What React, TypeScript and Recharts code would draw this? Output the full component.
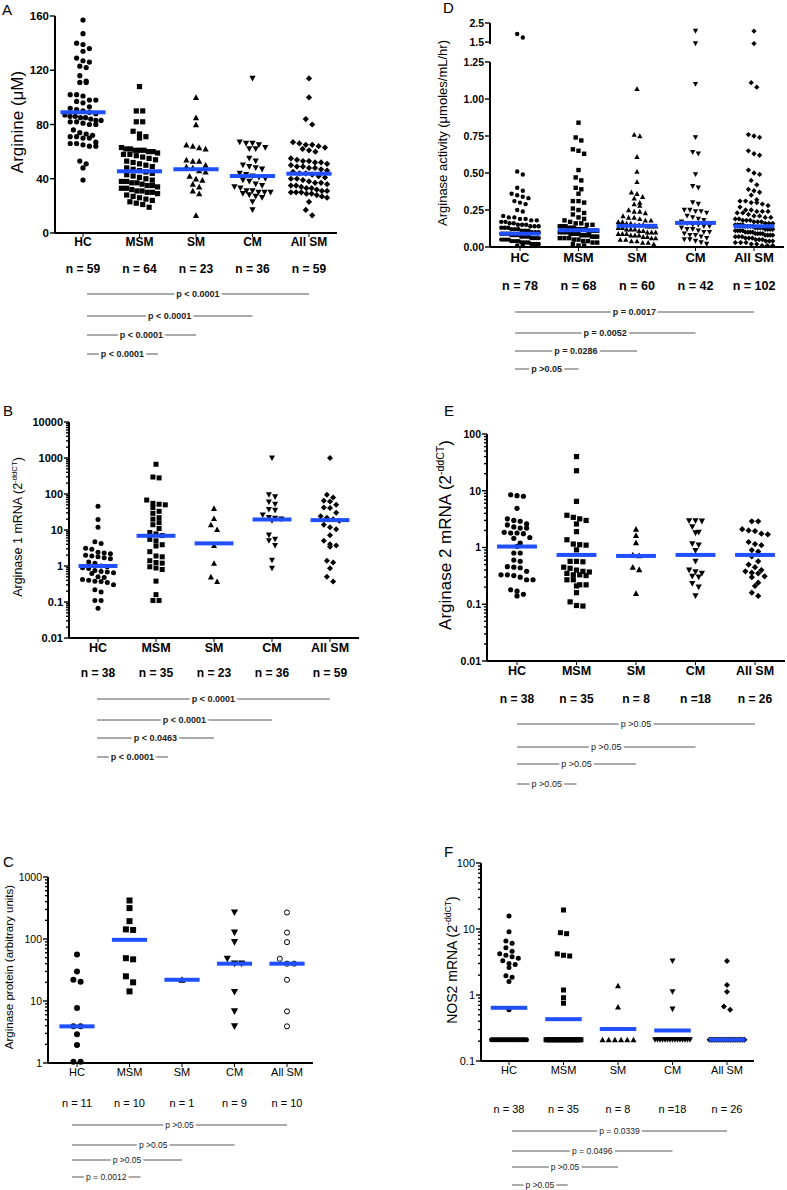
import React from 'react';
import { ScatterChart, Scatter, XAxis, YAxis } from 'recharts';

const GROUPS = ['HC', 'MSM', 'SM', 'CM', 'All SM'];
const KINDS = ['circle', 'square', 'up', 'down', 'diamond'];
const P_TARGETS = [4, 3, 2, 1];
const FONT = '"Liberation Sans", Arial, Helvetica, sans-serif';
const NARROW = '"Liberation Sans Narrow", "Liberation Sans", Arial, sans-serif';
const BLUE = '#1f4fff';

// A - plasma arginine (uM)
const argHC = [157, 147, 140, 139, 136, 134, 129, 127, 126, 123, 122, 116, 112, 111, 111, 102, 102, 101, 98, 98, 97, 96, 93, 92, 91, 90, 89, 88, 87, 86, 86, 85, 85, 84, 83, 83, 82, 82, 81, 80, 80, 76, 74, 73, 72, 71, 71, 70, 70, 67, 66, 66, 65, 64, 64, 53, 51, 48, 39];
const argMSM = [108, 90, 90, 82, 82, 75, 73, 71, 70, 63, 62, 62, 61, 61, 61, 60, 60, 59, 58, 58, 57, 56, 55, 54, 53, 52, 51, 50, 49, 48, 47, 46, 45, 44, 43, 42, 41, 40, 39, 38, 38, 37, 37, 36, 35, 35, 34, 33, 33, 32, 31, 31, 30, 30, 29, 28, 27, 26, 25, 24, 23, 22, 21, 19];
const argSM = [100, 85, 80, 65, 64, 63, 62, 54, 53, 53, 50, 49, 48, 46, 45, 42, 40, 39, 36, 34, 31, 29, 13];
const argCM = [114, 67, 66, 66, 65, 63, 62, 62, 55, 53, 50, 49, 48, 47, 44, 43, 42, 41, 40, 39, 38, 36, 35, 34, 33, 31, 31, 30, 30, 30, 29, 28, 27, 26, 23, 17];
const argAll = [114, 100, 84, 80, 67, 66, 65, 65, 64, 63, 62, 61, 60, 55, 54, 53, 53, 52, 52, 51, 50, 49, 49, 48, 48, 47, 46, 45, 44, 44, 43, 42, 41, 40, 40, 39, 38, 37, 37, 36, 35, 35, 34, 33, 33, 32, 31, 31, 30, 30, 30, 29, 29, 28, 27, 26, 23, 17, 13];
const argMedian = [89, 45.5, 47, 42, 43.7];
const argTicks = [0, 40, 80, 120, 160];
const argN = ['n = 59', 'n = 64', 'n = 23', 'n = 36', 'n = 59'];
const argP = ['p < 0.0001', 'p < 0.0001', 'p < 0.0001', 'p < 0.0001'];

// D - arginase activity (umoles/mL/hr)
const actHC = [1.92, 1.74, 0.51, 0.49, 0.40, 0.38, 0.36, 0.35, 0.34, 0.33, 0.31, 0.30, 0.29, 0.25, 0.24, 0.21, 0.20, 0.20, 0.19, 0.19, 0.18, 0.18, 0.17, 0.17, 0.16, 0.16, 0.15, 0.15, 0.15, 0.14, 0.14, 0.14, 0.13, 0.13, 0.13, 0.12, 0.12, 0.12, 0.11, 0.11, 0.11, 0.10, 0.10, 0.10, 0.09, 0.09, 0.09, 0.09, 0.08, 0.08, 0.08, 0.08, 0.07, 0.07, 0.07, 0.07, 0.06, 0.06, 0.06, 0.06, 0.05, 0.05, 0.05, 0.05, 0.04, 0.04, 0.04, 0.04, 0.03, 0.03, 0.03, 0.03, 0.02, 0.02, 0.02, 0.02, 0.01, 0.01];
const actMSM = [0.84, 0.74, 0.72, 0.66, 0.65, 0.63, 0.52, 0.47, 0.45, 0.40, 0.39, 0.36, 0.31, 0.31, 0.30, 0.26, 0.25, 0.23, 0.22, 0.20, 0.19, 0.18, 0.17, 0.16, 0.16, 0.15, 0.15, 0.14, 0.14, 0.14, 0.13, 0.13, 0.13, 0.12, 0.12, 0.12, 0.12, 0.11, 0.11, 0.11, 0.11, 0.10, 0.10, 0.10, 0.10, 0.09, 0.09, 0.09, 0.09, 0.08, 0.08, 0.08, 0.08, 0.07, 0.07, 0.07, 0.06, 0.06, 0.06, 0.05, 0.05, 0.04, 0.04, 0.03, 0.03, 0.02, 0.01, 0.01];
const actSM = [1.07, 0.76, 0.75, 0.61, 0.51, 0.44, 0.37, 0.36, 0.34, 0.33, 0.30, 0.29, 0.28, 0.25, 0.24, 0.24, 0.23, 0.21, 0.20, 0.20, 0.19, 0.18, 0.18, 0.17, 0.17, 0.16, 0.16, 0.15, 0.15, 0.15, 0.14, 0.14, 0.14, 0.13, 0.13, 0.12, 0.12, 0.12, 0.11, 0.11, 0.10, 0.10, 0.10, 0.09, 0.09, 0.09, 0.08, 0.08, 0.08, 0.07, 0.07, 0.06, 0.06, 0.05, 0.05, 0.04, 0.04, 0.03, 0.03, 0.02];
const actCM = [2.08, 1.42, 1.10, 0.74, 0.64, 0.63, 0.49, 0.41, 0.40, 0.30, 0.29, 0.25, 0.25, 0.24, 0.24, 0.23, 0.21, 0.20, 0.19, 0.18, 0.17, 0.16, 0.15, 0.15, 0.14, 0.14, 0.13, 0.12, 0.12, 0.11, 0.10, 0.10, 0.09, 0.08, 0.08, 0.07, 0.06, 0.05, 0.05, 0.04, 0.03, 0.02];
const actAll = [2.08, 1.42, 1.11, 1.08, 0.76, 0.75, 0.74, 0.65, 0.63, 0.62, 0.52, 0.50, 0.49, 0.45, 0.42, 0.39, 0.38, 0.37, 0.35, 0.32, 0.31, 0.31, 0.30, 0.30, 0.29, 0.28, 0.27, 0.25, 0.25, 0.24, 0.24, 0.24, 0.23, 0.23, 0.22, 0.21, 0.21, 0.20, 0.20, 0.19, 0.19, 0.18, 0.18, 0.18, 0.17, 0.17, 0.17, 0.16, 0.16, 0.16, 0.15, 0.15, 0.15, 0.15, 0.14, 0.14, 0.14, 0.14, 0.13, 0.13, 0.13, 0.13, 0.12, 0.12, 0.12, 0.12, 0.11, 0.11, 0.11, 0.11, 0.10, 0.10, 0.10, 0.10, 0.09, 0.09, 0.09, 0.09, 0.08, 0.08, 0.08, 0.08, 0.07, 0.07, 0.07, 0.06, 0.06, 0.06, 0.05, 0.05, 0.05, 0.04, 0.04, 0.04, 0.03, 0.03, 0.03, 0.02, 0.02, 0.01, 0.01, 0.01];
const actMedian = [0.09, 0.113, 0.143, 0.163, 0.14];
const actTicksLow = [0, 0.25, 0.5, 0.75, 1.0, 1.25];
const actTicksHigh = [1.5, 2.5];
const actN = ['n = 78', 'n = 68', 'n = 60', 'n = 42', 'n = 102'];
const actP = ['p = 0.0017', 'p = 0.0052', 'p = 0.0286', 'p >0.05'];

// B - arginase 1 mRNA
const arg1HC = [46, 19.6, 12, 4.7, 4.2, 3.1, 2.9, 2.4, 2.3, 2.2, 2.0, 1.9, 1.8, 1.7, 1.6, 1.3, 1.2, 1.0, 0.95, 0.9, 0.85, 0.75, 0.7, 0.68, 0.65, 0.62, 0.5, 0.48, 0.42, 0.4, 0.38, 0.37, 0.35, 0.3, 0.22, 0.19, 0.11, 0.11, 0.067];
const arg1MSM = [670, 296, 280, 68, 55, 52, 50, 42, 33, 29, 22, 20, 16, 14, 11, 8.5, 7.8, 7, 5.5, 5.0, 3.9, 3.6, 2.5, 1.9, 1.8, 1.4, 1.25, 1.2, 0.95, 0.88, 0.8, 0.38, 0.16, 0.11, 0.11];
const arg1SM = [40, 21, 14, 10.4, 3.7, 1.2, 0.5, 0.37];
const arg1CM = [1000, 95, 83, 60, 52, 37, 35, 26, 22, 21, 20, 18, 7.2, 5.5, 5.0, 3.7, 1.45, 0.87];
const arg1All = [1000, 95, 80, 65, 62, 50, 42, 41, 30, 24, 22, 20, 18, 14, 12, 10.5, 7.2, 5, 4, 3.7, 3.4, 1.4, 1.25, 0.87, 0.5, 0.37];
const arg1Median = [1.0, 6.9, 4.25, 19.6, 18.8];
const arg1Ticks = [0.01, 0.1, 1, 10, 100, 1000, 10000];
const arg1N = ['n = 38', 'n = 35', 'n = 23', 'n = 36', 'n = 59'];
const arg1P = ['p < 0.0001', 'p < 0.0001', 'p < 0.0463', 'p < 0.0001'];

// E - arginase 2 mRNA
const arg2HC = [8.5, 8.2, 8.0, 4.9, 3.2, 3.0, 2.9, 2.6, 2.5, 2.3, 2.2, 2.2, 1.85, 1.8, 1.8, 1.75, 1.5, 1.45, 1.2, 1.05, 0.8, 0.8, 0.6, 0.57, 0.46, 0.45, 0.44, 0.38, 0.33, 0.33, 0.32, 0.3, 0.27, 0.27, 0.18, 0.17, 0.15, 0.14];
const arg2MSM = [40, 22.5, 6.5, 3.7, 3.4, 3.2, 3.0, 2.6, 1.9, 1.37, 1.15, 1.12, 1.1, 0.91, 0.57, 0.57, 0.56, 0.45, 0.43, 0.40, 0.38, 0.37, 0.35, 0.33, 0.33, 0.32, 0.27, 0.27, 0.22, 0.22, 0.21, 0.16, 0.11, 0.095, 0.093];
const arg2SM = [2.1, 1.63, 1.22, 0.72, 0.74, 0.45, 0.41, 0.156];
const arg2CM = [2.95, 2.9, 2.95, 2.3, 1.85, 1.8, 1.16, 1.1, 0.88, 0.57, 0.40, 0.37, 0.35, 0.31, 0.30, 0.23, 0.2, 0.14];
const arg2All = [2.9, 2.9, 2.1, 2.0, 1.95, 1.75, 1.7, 1.25, 1.15, 1.1, 0.9, 0.85, 0.7, 0.57, 0.5, 0.45, 0.4, 0.38, 0.36, 0.35, 0.31, 0.3, 0.24, 0.21, 0.16, 0.14];
const arg2Median = [1.04, 0.74, 0.71, 0.74, 0.74];
const arg2Ticks = [0.01, 0.1, 1, 10, 100];
const arg2N = ['n = 38', 'n = 35', 'n = 8', 'n =18', 'n = 26'];
const arg2P = ['p >0.05', 'p >0.05', 'p >0.05', 'p >0.05'];

// C - arginase protein (arbitrary units)
const protHC = [56, 30, 22, 20.5, 7.7, 3.9, 3.9, 2.9, 1.95, 1.05, 1.05];
const protMSM = [418, 315, 194, 143, 140, 49, 47, 25, 20, 14.3];
const protSM = [22];
const protCM = [268, 127, 89, 48, 40, 40, 14, 6.8, 3.9];
const protAll = [268, 127, 89, 48, 40, 40, 22, 6.8, 3.9];
const protMedian = [3.9, 97, 22, 40, 40];
const protTicks = [1, 10, 100, 1000];
const protN = ['n = 11', 'n = 10', 'n = 1', 'n = 9', 'n = 10'];
const protP = ['p >0.05', 'p >0.05', 'p >0.05', 'p = 0.0012'];

// F - NOS2 mRNA
const nosHC = [15.8, 9.1, 6.6, 6.1, 5.2, 4.6, 4.2, 4.0, 3.8, 3.6, 3.3, 3.0, 2.9, 2.6, 1.95, 1.85, 1.6, 0.6, 0.21, 0.21, 0.21, 0.21, 0.21, 0.21, 0.21, 0.21, 0.21, 0.21, 0.21, 0.21, 0.21, 0.21, 0.21, 0.21, 0.21, 0.21, 0.21, 0.21];
const nosMSM = [19.4, 8.8, 8.5, 4.2, 4.0, 3.9, 1.19, 0.91, 0.75, 0.21, 0.21, 0.21, 0.21, 0.21, 0.21, 0.21, 0.21, 0.21, 0.21, 0.21, 0.21, 0.21, 0.21, 0.21, 0.21, 0.21, 0.21, 0.21, 0.21, 0.21, 0.21, 0.21, 0.21, 0.21, 0.21];
const nosSM = [1.38, 0.66, 0.21, 0.21, 0.21, 0.21, 0.21, 0.21];
const nosCM = [3.27, 1.12, 0.61, 0.21, 0.21, 0.21, 0.21, 0.21, 0.21, 0.21, 0.21, 0.21, 0.21, 0.21, 0.21, 0.21, 0.21, 0.21];
const nosAll = [3.27, 1.42, 1.12, 0.67, 0.6, 0.21, 0.21, 0.21, 0.21, 0.21, 0.21, 0.21, 0.21, 0.21, 0.21, 0.21, 0.21, 0.21, 0.21, 0.21, 0.21, 0.21, 0.21, 0.21, 0.21, 0.21];
const nosMedian = [0.64, 0.43, 0.305, 0.29, 0.21];
const nosTicks = [0.1, 1, 10, 100];
const nosN = ['n = 38', 'n = 35', 'n = 8', 'n =18', 'n = 26'];
const nosP = ['p = 0.0339', 'p = 0.0496', 'p >0.05', 'p >0.05'];

const YW = 46;
const MT = 6;
const MR = 6;
const XH = 32;

const logMinors = (lo: number, hi: number) => {
  const out: number[] = [];
  for (let e = Math.round(Math.log10(lo)); e < Math.round(Math.log10(hi)); e++) {
    for (let m = 2; m <= 9; m++) out.push(m * Math.pow(10, e));
  }
  return out;
};

// GraphPad-like rows: points close in y share a row and spread sideways
function swarm(values: number[], toPx: (v: number) => number, gap: number, maxHalf: number, step: number, idx: number) {
  const sorted = [...values].sort((a, b) => b - a);
  const rows: number[][] = [];
  let row: number[] = [];
  let y0 = 0;
  for (const v of sorted) {
    const py = toPx(v);
    if (row.length && py - y0 >= gap) {
      rows.push(row);
      row = [];
    }
    if (!row.length) y0 = py;
    row.push(v);
  }
  if (row.length) rows.push(row);
  const pts: { x: number; y: number }[] = [];
  rows.forEach((r) => {
    const k = r.length;
    const sp = k > 1 ? Math.min(gap + 0.8, (2 * maxHalf) / (k - 1)) : 0;
    r.forEach((v, j) => pts.push({ x: idx + ((j - (k - 1) / 2) * sp) / step, y: v }));
  });
  return pts;
}

function Mark({ cx, cy, kind, r }: { cx: number; cy: number; kind: string; r: number }) {
  if (cx == null || cy == null) return null;
  if (kind === 'circle') return <circle cx={cx} cy={cy} r={r} fill="#000" />;
  if (kind === 'open') return <circle cx={cx} cy={cy} r={r * 0.85} fill="#fff" stroke="#000" strokeWidth={1} />;
  if (kind === 'square') return <rect x={cx - r} y={cy - r} width={2 * r} height={2 * r} fill="#000" />;
  const h = r * 1.2;
  if (kind === 'up') return <polygon points={`${cx},${cy - h} ${cx + h},${cy + h * 0.85} ${cx - h},${cy + h * 0.85}`} fill="#000" />;
  if (kind === 'down') return <polygon points={`${cx},${cy + h} ${cx + h},${cy - h * 0.85} ${cx - h},${cy - h * 0.85}`} fill="#000" />;
  return <polygon points={`${cx},${cy - h} ${cx + h},${cy} ${cx},${cy + h} ${cx - h},${cy}`} fill="#000" />;
}

type Cfg = {
  c0: number; step: number; left: number; right: number; top: number; bottom: number;
  scale: 'linear' | 'log'; domain: [number, number]; majors: number[]; minors?: number[];
  fmt: (v: number) => string; groups: number[][]; medians?: number[]; kinds: string[];
  r: number; medW: number; tickFont: [number, string]; catFont?: [number, string];
  catGap?: number; hideX?: boolean; keep?: (v: number) => boolean;
};

function DotPanel({ cfg }: { cfg: Cfg }) {
  const plotW = cfg.right - cfg.left;
  const plotH = cfg.bottom - cfg.top;
  const [d0, d1] = cfg.domain;
  const toPx = (v: number) => {
    const f = cfg.scale === 'log'
      ? (Math.log10(v) - Math.log10(d0)) / (Math.log10(d1) - Math.log10(d0))
      : (v - d0) / (d1 - d0);
    return (1 - f) * plotH;
  };
  const keep = cfg.keep || (() => true);
  const pts = cfg.groups.map((g, i) =>
    swarm(g.filter(keep), toPx, cfg.r * 2 + 0.4, 0.32 * cfg.step, cfg.step, i)
  );
  const xDomain: [number, number] = [(cfg.left - cfg.c0) / cfg.step, (cfg.right - cfg.c0) / cfg.step];
  const allTicks = [...cfg.majors, ...(cfg.minors || [])].sort((a, b) => a - b);
  const isMajor = (v: number) => cfg.majors.some((m) => Math.abs(m - v) <= 1e-9 * Math.max(1, m));
  const MB = cfg.hideX ? 8 : 0;
  const height = MT + plotH + (cfg.hideX ? 0 : XH) + MB;
  const width = YW + plotW + MR;
  const medW = cfg.medW * cfg.step;

  const yTick = (p: any) => {
    const v = p.payload.value;
    const maj = isMajor(v);
    return (
      <g>
        <line x1={YW} x2={YW - (maj ? 5 : 3)} y1={p.y} y2={p.y} stroke="#000" strokeWidth={1.4} />
        {maj && (
          <text x={YW - 6} y={p.y} dy="0.36em" textAnchor="end" fill="#000"
            fontSize={cfg.tickFont[0]} fontWeight={cfg.tickFont[1]} fontFamily={FONT}>
            {cfg.fmt(v)}
          </text>
        )}
      </g>
    );
  };

  return (
    <div style={{ position: 'absolute', left: cfg.left - YW, top: cfg.top - MT }}>
      <ScatterChart width={width} height={height} margin={{ top: MT, right: MR, bottom: MB, left: 0 }}>
        <XAxis
          type="number" dataKey="x" domain={xDomain} ticks={[0, 1, 2, 3, 4]} interval={0}
          tickFormatter={(i: number) => GROUPS[i]} hide={!!cfg.hideX} height={XH}
          stroke="#000" axisLine={{ strokeWidth: 2 }} tickSize={4} tickMargin={cfg.catGap || 0}
          tick={{ fill: '#000', fontSize: cfg.catFont ? cfg.catFont[0] : 12, fontWeight: cfg.catFont ? cfg.catFont[1] : 'bold', fontFamily: FONT }}
        />
        <YAxis
          type="number" dataKey="y" scale={cfg.scale} domain={cfg.domain} ticks={allTicks} interval={0}
          width={YW} stroke="#000" axisLine={{ strokeWidth: 2 }} tickLine={false} tick={yTick}
        />
        {pts.map((data, i) => (
          <Scatter key={GROUPS[i]} data={data} isAnimationActive={false}
            shape={(p: any) => <Mark cx={p.cx} cy={p.cy} kind={cfg.kinds[i]} r={cfg.r} />} />
        ))}
        {cfg.medians && (
          <Scatter data={cfg.medians.map((m, i) => ({ x: i, y: m }))} isAnimationActive={false}
            shape={(p: any) => <rect x={p.cx - medW / 2} y={p.cy - 2} width={medW} height={4} fill={BLUE} />} />
        )}
      </ScatterChart>
    </div>
  );
}

type Ann = {
  letter: string; lx: number; ly: number;
  tx: number; ty: number; tSize: number; title: string; sup?: string;
  c0: number; step: number; n: string[]; nY: number; nFont: [number, string];
  p: string[]; pY: number[]; pStart: number; pFont: [number, string];
};

function Annotations({ a }: { a: Ann }) {
  return (
    <g fontFamily={FONT}>
      <text x={a.lx} y={a.ly} fontSize={15} fill="#000">{a.letter}</text>
      <text transform={`translate(${a.tx},${a.ty}) rotate(-90)`} textAnchor="middle" dy="0.35em" fontSize={a.tSize} fill="#000">
        {a.title}
        {a.sup && <tspan dy={-a.tSize * 0.4} fontSize={a.tSize * 0.62}>{a.sup}</tspan>}
        {a.sup && <tspan dy={a.tSize * 0.4}>)</tspan>}
      </text>
      {a.n.map((t, i) => (
        <text key={t + i} x={a.c0 + i * a.step} y={a.nY} dy="0.36em" textAnchor="middle"
          fontSize={a.nFont[0]} fontWeight={a.nFont[1]} fill="#000">{t}</text>
      ))}
      {a.p.map((t, k) => {
        const textW = t.length * a.pFont[0] * 0.5;
        const x2 = Math.max(a.c0 + P_TARGETS[k] * a.step, a.pStart + textW + 26);
        const mid = (a.pStart + x2) / 2;
        return (
          <g key={k}>
            <line x1={a.pStart} x2={x2} y1={a.pY[k]} y2={a.pY[k]} stroke="#444" strokeWidth={0.9} />
            <text x={mid} y={a.pY[k]} dy="0.35em" textAnchor="middle" fontFamily={NARROW}
              fontSize={a.pFont[0]} fontWeight={a.pFont[1]} fill="#222"
              stroke="#fff" strokeWidth={5} paintOrder="stroke">{t}</text>
          </g>
        );
      })}
    </g>
  );
}

const panelA: Cfg = {
  c0: 83, step: 56.5, left: 55, right: 337, top: 16, bottom: 233, scale: 'linear', domain: [0, 160],
  majors: argTicks, fmt: (v) => String(v), groups: [argHC, argMSM, argSM, argCM, argAll], medians: argMedian,
  kinds: KINDS, r: 2.6, medW: 0.8, tickFont: [11.5, 'bold'], catFont: [12, 'bold'], catGap: 0,
};
const panelDLow: Cfg = {
  c0: 520, step: 58.5, left: 490, right: 784, top: 62, bottom: 247, scale: 'linear', domain: [0, 1.25],
  majors: actTicksLow, fmt: (v) => v.toFixed(2), groups: [actHC, actMSM, actSM, actCM, actAll], medians: actMedian,
  kinds: KINDS, r: 2.2, medW: 0.7, tickFont: [10.5, 'bold'], catFont: [13, 'bold'], catGap: 2, keep: (v) => v <= 1.3,
};
const panelDHigh: Cfg = {
  c0: 520, step: 58.5, left: 490, right: 784, top: 23, bottom: 44, scale: 'linear', domain: [1.4, 2.5],
  majors: actTicksHigh, fmt: (v) => v.toFixed(1), groups: [actHC, actMSM, actSM, actCM, actAll],
  kinds: KINDS, r: 2.2, medW: 0.7, tickFont: [10.5, 'bold'], hideX: true, keep: (v) => v > 1.3,
};
const panelB: Cfg = {
  c0: 98, step: 58, left: 69, right: 359, top: 422, bottom: 638, scale: 'log', domain: [0.01, 10000],
  majors: arg1Ticks, minors: logMinors(0.01, 10000), fmt: (v) => String(v),
  groups: [arg1HC, arg1MSM, arg1SM, arg1CM, arg1All], medians: arg1Median,
  kinds: KINDS, r: 2.5, medW: 0.67, tickFont: [11, 'bold'], catFont: [12.5, 'bold'], catGap: 1,
};
const panelE: Cfg = {
  c0: 517, step: 59.5, left: 487, right: 785, top: 434, bottom: 661, scale: 'log', domain: [0.01, 100],
  majors: arg2Ticks, minors: logMinors(0.01, 100), fmt: (v) => String(v),
  groups: [arg2HC, arg2MSM, arg2SM, arg2CM, arg2All], medians: arg2Median,
  kinds: KINDS, r: 2.6, medW: 0.67, tickFont: [10.5, 'bold'], catFont: [12.5, 'bold'], catGap: 1,
};
const panelC: Cfg = {
  c0: 77, step: 52.5, left: 48, right: 313, top: 877, bottom: 1063, scale: 'log', domain: [1, 1000],
  majors: protTicks, minors: logMinors(1, 1000), fmt: (v) => String(v),
  groups: [protHC, protMSM, protSM, protCM, protAll], medians: protMedian,
  kinds: ['circle', 'square', 'up', 'down', 'open'], r: 3, medW: 0.67, tickFont: [10.5, 'normal'], catFont: [11, 'normal'], catGap: 1,
};
const panelF: Cfg = {
  c0: 509, step: 54.5, left: 481, right: 754, top: 863, bottom: 1061, scale: 'log', domain: [0.1, 100],
  majors: nosTicks, minors: logMinors(0.1, 100), fmt: (v) => String(v),
  groups: [nosHC, nosMSM, nosSM, nosCM, nosAll], medians: nosMedian,
  kinds: KINDS, r: 2.5, medW: 0.67, tickFont: [11, 'normal'], catFont: [11, 'normal'], catGap: 1,
};

const annA: Ann = {
  letter: 'A', lx: 2, ly: 15, tx: 17, ty: 122, tSize: 17, title: 'Arginine (\u03bcM)',
  c0: 83, step: 56.5, n: argN, nY: 269, nFont: [12, 'bold'], p: argP, pY: [294, 316, 335, 354], pStart: 87, pFont: [9, 'bold'],
};
const annD: Ann = {
  letter: 'D', lx: 443, ly: 13, tx: 442, ty: 133, tSize: 13, title: 'Arginase activity (\u03bcmoles/mL/hr)',
  c0: 520, step: 58.5, n: actN, nY: 285, nFont: [12.5, 'bold'], p: actP, pY: [312, 333, 351, 369], pStart: 515, pFont: [9, 'bold'],
};
const annB: Ann = {
  letter: 'B', lx: 3, ly: 416, tx: 18, ty: 527, tSize: 12.5, title: 'Arginase 1 mRNA (2', sup: '-ddCT',
  c0: 98, step: 58, n: arg1N, nY: 673, nFont: [12, 'bold'], p: arg1P, pY: [699, 720, 738, 757], pStart: 97, pFont: [9, 'bold'],
};
const annE: Ann = {
  letter: 'E', lx: 444, ly: 416, tx: 445, ty: 535, tSize: 17, title: 'Arginase 2 mRNA (2', sup: '-ddCT',
  c0: 517, step: 59.5, n: arg2N, nY: 699, nFont: [12, 'bold'], p: arg2P, pY: [724, 747, 764, 784], pStart: 517, pFont: [9, 'normal'],
};
const annC: Ann = {
  letter: 'C', lx: 3, ly: 867, tx: 9, ty: 967, tSize: 11.5, title: 'Arginase protein (arbitrary units)',
  c0: 77, step: 52.5, n: protN, nY: 1103, nFont: [11, 'normal'], p: protP, pY: [1125, 1145, 1160, 1177], pStart: 72, pFont: [8.5, 'normal'],
};
const annF: Ann = {
  letter: 'F', lx: 444, ly: 857, tx: 452, ty: 960, tSize: 14, title: 'NOS2 mRNA (2', sup: '-ddCT',
  c0: 509, step: 54.5, n: nosN, nY: 1109, nFont: [11, 'normal'], p: nosP, pY: [1131, 1151, 1167, 1185], pStart: 512, pFont: [8.5, 'normal'],
};

export default function App() {
  return (
    <div style={{ position: 'absolute', left: 0, top: 0, width: 787, height: 1190, background: '#fff', overflow: 'hidden' }}>
      <DotPanel cfg={panelA} />
      <DotPanel cfg={panelDHigh} />
      <DotPanel cfg={panelDLow} />
      <DotPanel cfg={panelB} />
      <DotPanel cfg={panelE} />
      <DotPanel cfg={panelC} />
      <DotPanel cfg={panelF} />
      <svg width={787} height={1190} style={{ position: 'absolute', left: 0, top: 0, pointerEvents: 'none' }}>
        {[annA, annD, annB, annE, annC, annF].map((a) => (
          <Annotations key={a.letter} a={a} />
        ))}
      </svg>
    </div>
  );
}
